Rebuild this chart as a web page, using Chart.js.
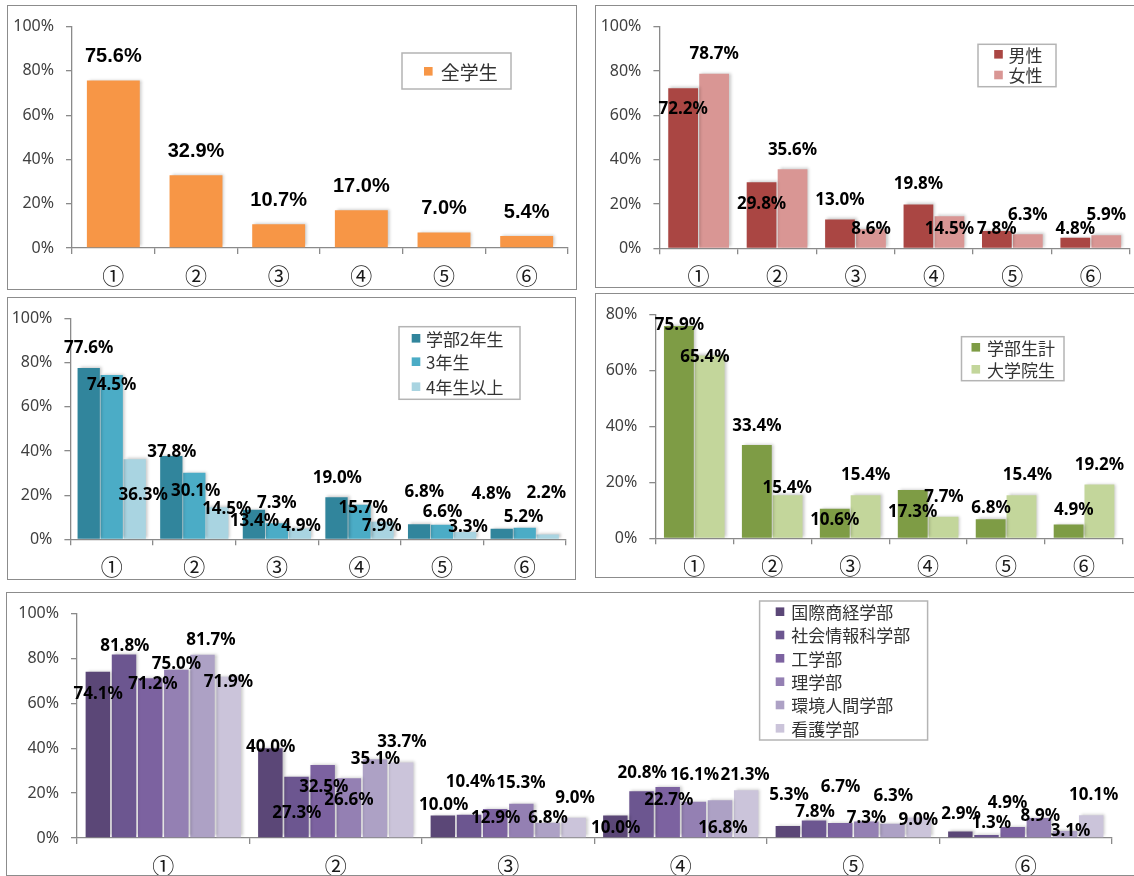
<!DOCTYPE html>
<html><head><meta charset="utf-8">
<script src="https://cdn.jsdelivr.net/npm/chart.js@4.4.1/dist/chart.umd.min.js"></script>
<style>
html,body{margin:0;padding:0;background:#fff;}
#page{position:relative;width:1134px;height:876px;overflow:hidden;background:#fff;}
.box{position:absolute;box-sizing:border-box;border:1.5px solid #8c8c8c;pointer-events:none;}
canvas{position:absolute;}
</style></head><body><div id="page"></div>
<script>
// ---------- DATA ----------
const categories = ['①','②','③','④','⑤','⑥'];
const yTickStep = 20;

const allStudents = [75.6, 32.9, 10.7, 17.0, 7.0, 5.4];

const male   = [72.2, 29.8, 13.0, 19.8, 7.8, 4.8];
const female = [78.7, 35.6, 8.6, 14.5, 6.3, 5.9];

const year2     = [77.6, 37.8, 13.4, 19.0, 6.8, 4.8];
const year3     = [74.5, 30.1, 7.3, 15.7, 6.6, 5.2];
const year4plus = [36.3, 14.5, 4.9, 7.9, 3.3, 2.2];

const undergradTotal = [75.9, 33.4, 10.6, 17.3, 6.8, 4.9];
const graduate       = [65.4, 15.4, 15.4, 7.7, 15.4, 19.2];

const facIntlBiz   = [74.1, 40.0, 10.0, 10.0, 5.3, 2.9];
const facSocInfo   = [81.8, 27.3, 10.4, 20.8, 7.8, 1.3];
const facEng       = [71.2, 32.5, 12.9, 22.7, 6.7, 4.9];
const facSci       = [75.0, 26.6, 15.3, 16.1, 7.3, 8.9];
const facEnvHuman  = [81.7, 35.1, 6.8, 16.8, 6.3, 3.1];
const facNursing   = [71.9, 33.7, 9.0, 21.3, 9.0, 10.1];

// ---------- LABEL PLACEMENT (style: pixel offsets from bar top) ----------
const c1dx = [[0,0,0,0,0,0]];
const c1dy = [[-24,-24,-24,-24,-24,-24]];
const c2dx = [[0,0,0,0,0,0],[0,0,0,0,0,0]];
const c2dy = [[21,21.5,-19.3,-20,-1.6,-8.3],[-20,-19.5,0,13.4,-19.2,-20]];
const c3dx = [[0,0.5,0.6,0.8,5.2,-10.4],[0,1.3,0,3.7,0.4,-1.2],[8.5,9.5,1.2,-0.7,3,-1.5]];
const c3dy = [[-20,-4,11,-19.3,-32.5,-34.6],[9.8,18.7,-19.8,4,-13,-10.4],[35.5,2,-2.4,4.3,-5.3,-41]];
const c4dx = [[0.5,0,0,0,0.4,5.2],[-4.7,-0.5,0,0.4,6,0]];
const c4dy = [[-1,-19,11,22,-10.8,-14.5],[1.8,-7.2,-20,-19.3,-20,-19.2]];
const c5dx = [[0.4,0.4,0.8,0.3,1.1,0.8],[0.8,0.3,1.4,0.7,1.1,4.8],[2.7,1.1,0.4,1.1,0.3,-5.1],
              [0,0,-0.4,0.7,0.3,1.5],[8.4,0.4,0.5,2.9,0.7,5.5],[-0.3,0.8,1.4,-1.1,-0.3,2.5]];
const c5dy = [[22.4,-1.4,-10.6,12.7,-31.3,-17.4],[-8,36,-33,-17.7,-7.9,-12],[5.8,22.3,9.3,13.3,-35.4,-23.9],
              [-6,22.2,-20.2,-26.7,-3.4,-1.4],[-14.3,0,-4.5,28.2,-27.3,0],[5.8,-20,-19.5,-14.9,2.2,-20.3]];

const CJK = '"Noto Sans CJK JP", "Noto Sans", sans-serif';
const LAT = '"Noto Sans", "DejaVu Sans", sans-serif';
const axisColor = '#8a8a8a';

const specs = [
  { left:7, top:5, w:570, h:285, area:{left:65,right:561,top:19,bottom:243}, yMax:100, cat:0.64, bar:1.0,
    series:[{name:'全学生', data:allStudents, color:'#F79646'}], dx:c1dx, dy:c1dy,
    labelFont:'bold 20px "Liberation Sans", Arial, sans-serif',
    legend:{box:[395,48,109,36], ys:[66.3], mx:421.3, tx:433.7, size:19} },
  { left:595, top:5, w:541, h:283, area:{left:64.4,right:535,top:20,bottom:243.3}, yMax:100, cat:0.79, bar:0.96,
    series:[{name:'男性', data:male, color:'#AA4643'},{name:'女性', data:female, color:'#D99694'}], dx:c2dx, dy:c2dy,
    labelFont:'bold 17px '+LAT,
    legend:{box:[383,39.3,78,42.4], ys:[49.3,70], mx:403.5, tx:413.4, size:17} },
  { left:7, top:297, w:569, h:283, area:{left:63.4,right:559,top:19.7,bottom:242.3}, yMax:100, cat:0.835, bar:0.97,
    series:[{name:'学部2年生', data:year2, color:'#31859C'},{name:'3年生', data:year3, color:'#4BACC6'},{name:'4年生以上', data:year4plus, color:'#A9D4E1'}],
    dx:c3dx, dy:c3dy, labelFont:'bold 17px '+LAT,
    legend:{box:[392,29.7,121,72.6], ys:[41.3,64.7,89.7], mx:409, tx:419, size:17} },
  { left:595, top:293, w:541, h:285, area:{left:60.3,right:528,top:19.7,bottom:245.3}, yMax:80, cat:0.79, bar:0.97,
    series:[{name:'学部生計', data:undergradTotal, color:'#7E9C45'},{name:'大学院生', data:graduate, color:'#C3D69B'}],
    dx:c4dx, dy:c4dy, labelFont:'bold 17px '+LAT,
    legend:{box:[366.5,43.7,102.5,44], ys:[54.3,76.3], mx:380.8, tx:391.9, size:17} },
  { left:6, top:592, w:1130, h:284, area:{left:71,right:1106,top:19,bottom:246}, yMax:100, cat:0.91, bar:0.935,
    series:[{name:'国際商経学部', data:facIntlBiz, color:'#5B4777'},{name:'社会情報科学部', data:facSocInfo, color:'#6C5690'},
            {name:'工学部', data:facEng, color:'#7C62A0'},{name:'理学部', data:facSci, color:'#9480B3'},
            {name:'環境人間学部', data:facEnvHuman, color:'#ADA1C5'},{name:'看護学部', data:facNursing, color:'#CBC4DA'}],
    dx:c5dx, dy:c5dy, labelFont:'bold 17px '+LAT,
    legend:{box:[753.6,9,168,139], ys:[19.7,43,66.3,89.7,113,136.3], mx:774, tx:785.3, size:17} }
];

const page = document.getElementById('page');

function makeChart(spec){
  const cv = document.createElement('canvas');
  cv.width = spec.w; cv.height = spec.h;
  cv.style.left = spec.left+'px'; cv.style.top = spec.top+'px';
  cv.style.width = spec.w+'px'; cv.style.height = spec.h+'px';
  page.appendChild(cv);
  const box = document.createElement('div');
  box.className = 'box';
  box.style.left = spec.left+'px'; box.style.top = spec.top+'px';
  box.style.width = spec.w+'px'; box.style.height = spec.h+'px';
  page.appendChild(box);

  const shadow = {
    id:'shadow',
    beforeDatasetDraw(chart){ const c=chart.ctx; c.save(); c.shadowColor='rgba(0,0,0,0.22)'; c.shadowBlur=3; c.shadowOffsetX=2; c.shadowOffsetY=-1; },
    afterDatasetDraw(chart){ chart.ctx.restore(); }
  };
  const labels = {
    id:'vlabels',
    afterDatasetsDraw(chart){
      const c = chart.ctx; c.save();
      c.font = spec.labelFont; c.fillStyle = '#000'; c.textAlign='center'; c.textBaseline='middle';
      chart.data.datasets.forEach((ds,i)=>{
        chart.getDatasetMeta(i).data.forEach((b,j)=>{
          c.fillText(ds.data[j].toFixed(1)+'%', b.x + spec.dx[i][j], b.y + spec.dy[i][j]);
        });
      });
      c.restore();
    }
  };
  const legend = {
    id:'boxlegend',
    afterDraw(chart){
      const c = chart.ctx, L = spec.legend; c.save();
      c.fillStyle='#fff'; c.fillRect(L.box[0],L.box[1],L.box[2],L.box[3]);
      c.strokeStyle='#b4b4b4'; c.lineWidth=1.5; c.strokeRect(L.box[0],L.box[1],L.box[2],L.box[3]);
      c.font = L.size+'px '+CJK; c.textAlign='left'; c.textBaseline='middle';
      spec.series.forEach((s,i)=>{
        c.fillStyle = s.color; c.fillRect(L.mx-4.3, L.ys[i]-4.3, 8.6, 8.6);
        c.fillStyle = '#333'; c.fillText(s.name, L.tx, L.ys[i]+1);
      });
      c.restore();
    }
  };

  new Chart(cv, {
    type:'bar',
    data:{ labels:categories,
      datasets: spec.series.map(s=>({label:s.name, data:s.data, backgroundColor:s.color, borderWidth:0,
        categoryPercentage:spec.cat, barPercentage:spec.bar})) },
    options:{
      responsive:false, animation:false, devicePixelRatio:1,
      layout:{padding:{top:spec.area.top, right:spec.w-spec.area.right, bottom:0, left:0}},
      plugins:{legend:{display:false}, tooltip:{enabled:false}},
      scales:{
        x:{ offset:true,
            grid:{offset:true, drawOnChartArea:false, drawTicks:true, tickLength:6, color:axisColor, lineWidth:1.3},
            border:{display:true, color:axisColor, width:1.3},
            ticks:{font:{family:CJK, size:22}, color:'#1a1a1a', padding:8, maxRotation:0, autoSkip:false},
            afterFit:(s)=>{ s.height = spec.h - spec.area.bottom; } },
        y:{ min:0, max:spec.yMax,
            ticks:{stepSize:yTickStep, callback:v=>v+'%', font:{family:LAT, size:16}, color:'#404040', padding:12},
            grid:{drawOnChartArea:false, drawTicks:true, tickLength:6, color:axisColor, lineWidth:1.3},
            border:{display:true, color:axisColor, width:1.3},
            afterFit:(s)=>{ s.width = spec.area.left; } }
      }
    },
    plugins:[shadow, labels, legend]
  });
}
specs.forEach(makeChart);
</script></body></html>
